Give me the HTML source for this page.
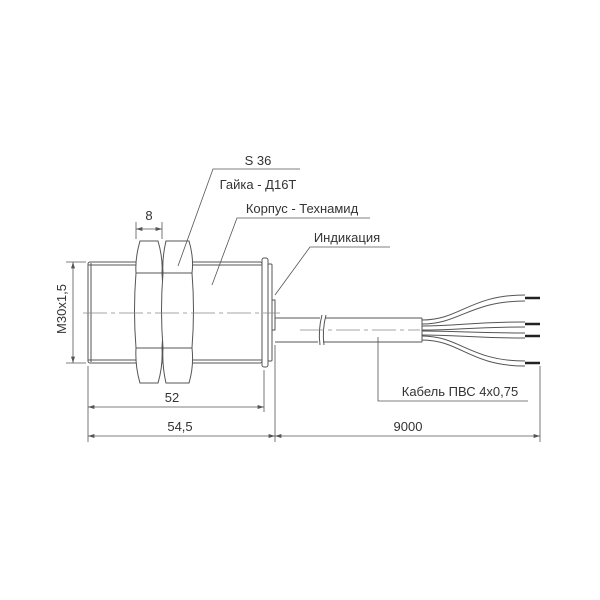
<!DOCTYPE html>
<html><head><meta charset="utf-8"><style>body{margin:0;background:#fff}svg{display:block}text{font-family:"Liberation Sans","DejaVu Sans",sans-serif;font-size:13px;fill:#333}</style></head>
<body>
<svg width="600" height="600" viewBox="0 0 600 600" xmlns="http://www.w3.org/2000/svg">
<defs><marker id="a" markerWidth="8" markerHeight="6" refX="8" refY="3" orient="auto-start-reverse"><path d="M0,0.5 L8,3 L0,5.5" fill="#555" stroke="none"/></marker></defs>
<g stroke="#555" stroke-width="1" fill="none">
<rect x="88" y="262" width="174" height="101" rx="2" fill="#fff"/>
<line x1="91" y1="263" x2="91" y2="362"/>
<line x1="88" y1="265" x2="262" y2="265"/>
<line x1="88" y1="360" x2="262" y2="360"/>
<rect x="262" y="258" width="6" height="109" rx="2" fill="#fff"/>
<rect x="268" y="264" width="4" height="97" rx="1" fill="#fff"/>
<rect x="272" y="300" width="3" height="30" fill="#fff"/>
<path d="M140,241 L158,241 Q163,258 162,273 L136,273 Q135,258 140,241Z" fill="#fff"/>
<path d="M136,273 L162,273 Q165,310 162,348 L136,348 Q133,310 136,273Z" fill="#fff"/>
<path d="M136,348 L162,348 Q163,366 158,383 L140,383 Q135,366 136,348Z" fill="#fff"/>
<path d="M166,241 L189,241 Q194,258 192,273 L163,273 Q162,258 166,241Z" fill="#fff"/>
<path d="M163,273 L192,273 Q195,310 192,348 L163,348 Q160,310 163,273Z" fill="#fff"/>
<path d="M163,348 L192,348 Q194,366 189,383 L166,383 Q162,366 163,348Z" fill="#fff"/>
<line x1="275" y1="318" x2="320" y2="318"/><line x1="325" y1="318" x2="422" y2="318"/>
<line x1="275" y1="342" x2="318" y2="342"/><line x1="323" y1="342" x2="422" y2="342"/>
<path d="M322,315 Q318,330 320,345 M326,315 Q322,330 324,345"/>
<line x1="422" y1="318" x2="422" y2="342"/>
<path d="M422,320 C460,320 470,295 525,295 M422,324 C460,324 470,301 525,301"/>
<path d="M422,326 C460,326 470,322 525,322 M422,330 C460,330 470,327 525,327"/>
<path d="M422,331 C460,331 470,333 525,333 M422,335 C460,335 470,338 525,338"/>
<path d="M422,336 C460,336 470,361 525,361 M422,340 C460,340 470,366 525,366"/>
</g>
<g stroke="#222" stroke-width="2.5">
<line x1="525" y1="298" x2="540" y2="298"/><line x1="525" y1="324" x2="540" y2="324"/>
<line x1="525" y1="336" x2="540" y2="336"/><line x1="525" y1="363" x2="540" y2="363"/>
</g>
<line x1="83" y1="313" x2="280" y2="313" stroke="#888" stroke-width="0.8" stroke-dasharray="24,4,4,4"/>
<line x1="300" y1="330" x2="420" y2="330" stroke="#888" stroke-width="0.8" stroke-dasharray="24,4,4,4"/>
<g stroke="#555" stroke-width="0.8" fill="none">
<line x1="66" y1="262" x2="86" y2="262"/><line x1="66" y1="363" x2="86" y2="363"/>
<line x1="73" y1="262" x2="73" y2="363" marker-start="url(#a)" marker-end="url(#a)"/>
<line x1="136" y1="222" x2="136" y2="239"/><line x1="162" y1="222" x2="162" y2="239"/>
<line x1="136" y1="229" x2="162" y2="229" marker-start="url(#a)" marker-end="url(#a)"/>
<line x1="88" y1="366" x2="88" y2="442"/><line x1="264" y1="370" x2="264" y2="412"/>
<line x1="275" y1="345" x2="275" y2="442"/><line x1="540" y1="366" x2="540" y2="442"/>
<line x1="88" y1="407" x2="264" y2="407" marker-start="url(#a)" marker-end="url(#a)"/>
<line x1="88" y1="436" x2="275" y2="436" marker-start="url(#a)" marker-end="url(#a)"/>
<line x1="275" y1="436" x2="540" y2="436" marker-start="url(#a)" marker-end="url(#a)"/>
<polyline points="300,169 213,169 178,266"/>
<polyline points="370,218 237,218 212,285"/>
<polyline points="390,247 310,247 275,295"/>
<polyline points="378,337 378,401 528,401"/>
</g>
<text x="149" y="220" text-anchor="middle">8</text>
<text x="70" y="313" text-anchor="middle" transform="rotate(-90 66 313)">M30x1,5</text>
<text x="172" y="402" text-anchor="middle">52</text>
<text x="180" y="431" text-anchor="middle">54,5</text>
<text x="408" y="431" text-anchor="middle">9000</text>
<text x="258" y="165" text-anchor="middle">S 36</text>
<text x="258" y="189" text-anchor="middle">Гайка - Д16Т</text>
<text x="302" y="213" text-anchor="middle">Корпус - Технамид</text>
<text x="347" y="242" text-anchor="middle">Индикация</text>
<text x="460" y="396" text-anchor="middle">Кабель ПВС 4х0,75</text>
</svg>
</body></html>
